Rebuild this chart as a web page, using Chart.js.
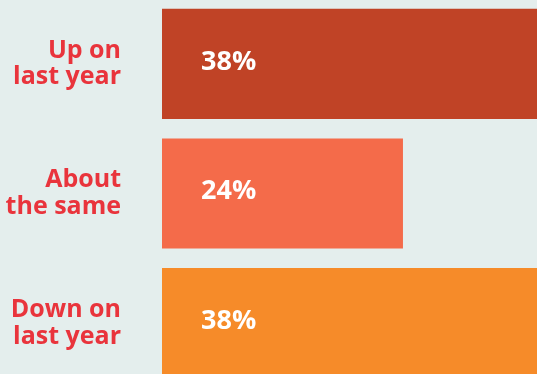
<!DOCTYPE html>
<html>
<head>
<meta charset="utf-8">
<script src="https://cdn.jsdelivr.net/npm/chart.js@4"></script>
<style>
  html, body { margin: 0; padding: 0; background: #e4eeed; overflow: hidden; }
  .wrap { position: relative; top: -1px; width: 537px; height: 389px; }
</style>
</head>
<body>
<div class="wrap"><canvas id="myChart"></canvas></div>
<script>
const categories = [['Up on', 'last year'], ['About', 'the same'], ['Down on', 'last year']];
const shares = [38, 24, 38];
const barColors = ['#c04326', '#f46b4a', '#f68b29'];

const FONT = '"Open Sans", Lato, sans-serif';

// white percentage text sitting near the start of each bar
const valueLabels = {
    id: 'value-labels',
    afterDatasetsDraw(chart) {
        const ctx = chart.ctx;
        const meta = chart.getDatasetMeta(0);
        ctx.save();
        ctx.font = 'bold 27px ' + FONT;
        ctx.fillStyle = '#ffffff';
        ctx.textAlign = 'left';
        ctx.textBaseline = 'middle';
        meta.data.forEach((bar, i) => {
            ctx.fillText(shares[i] + '%', bar.base + 39, bar.y - 2);
        });
        ctx.restore();
    }
};

new Chart(document.getElementById('myChart'), {
    type: 'bar',
    data: {
        labels: categories,
        datasets: [{
            data: shares,
            backgroundColor: barColors,
            borderWidth: 0,
            categoryPercentage: 0.85,
            barPercentage: 1
        }]
    },
    options: {
        indexAxis: 'y',
        responsive: true,
        maintainAspectRatio: false,
        animation: false,
        layout: { padding: 0 },
        plugins: {
            legend: { display: false },
            tooltip: { enabled: false }
        },
        scales: {
            x: {
                display: false,
                min: 0,
                max: 37.35
            },
            y: {
                grid: { display: false, drawTicks: false },
                border: { display: false },
                afterFit(scale) {
                    scale.width = 162;
                    scale.paddingTop = 0;
                    scale.paddingBottom = 0;
                },
                ticks: {
                    padding: 41,
                    color: '#e9343c',
                    font: { family: FONT, size: 25, weight: 'bold', lineHeight: 1.06 }
                }
            }
        }
    },
    plugins: [valueLabels]
});
</script>
</body>
</html>
